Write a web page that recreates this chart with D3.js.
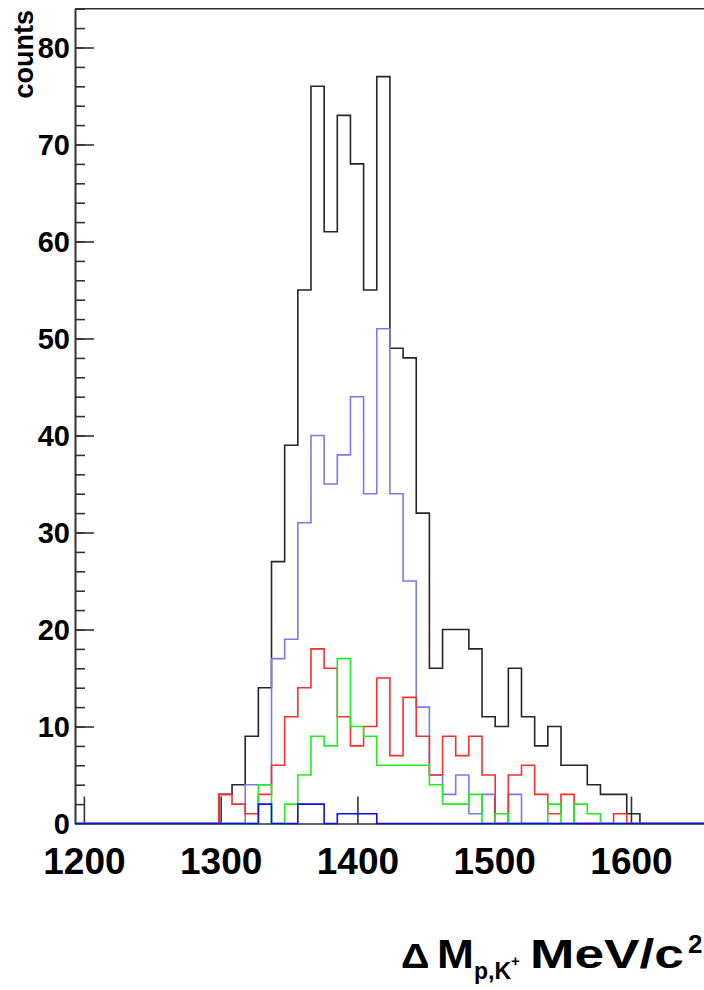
<!DOCTYPE html>
<html>
<head>
<meta charset="utf-8">
<script src="https://cdn.jsdelivr.net/npm/d3@7"></script>
<style>
  html, body { margin: 0; padding: 0; background: #fff; }
  svg { display: block; }
  text { font-family: "Liberation Sans", Arial, Helvetica, sans-serif; font-weight: bold; fill: #000; }
</style>
</head>
<body>
<svg id="chart" width="704" height="990"></svg>
<script>
// Histogram binning (MeV/c^2): lower edge of the first filled bin and the bin width
const firstBinLow = 1298.7;
const binWidth = 9.62;

// Counts per bin, starting at firstBinLow
const countsAll     = [3, 4, 9, 14, 27, 39, 55, 76, 61, 73, 68, 55, 77, 49, 48, 32, 16, 20, 20, 18, 11, 10, 16, 11, 8, 10, 6, 6, 4, 3, 3, 1];
const countsSel     = [0, 0, 4, 4, 17, 19, 31, 40, 35, 38, 44, 34, 51, 34, 25, 12, 5, 3, 5, 1, 3, 0, 3, 0, 0, 0, 0, 0, 0, 0, 0, 0];
const countsRed     = [3, 2, 1, 3, 6, 11, 14, 18, 16, 11, 8, 10, 15, 7, 13, 9, 5, 9, 7, 9, 5, 0, 5, 6, 3, 1, 3, 0, 0, 0, 1, 0];
const countsGreen   = [0, 0, 0, 4, 0, 2, 5, 9, 8, 17, 10, 9, 6, 6, 6, 6, 4, 2, 2, 3, 0, 1, 0, 0, 0, 2, 0, 2, 1, 0, 0, 0];
const countsBlue    = [0, 0, 0, 2, 0, 0, 2, 2, 0, 1, 1, 1, 0, 0, 0, 0, 0, 0, 0, 0, 0, 0, 0, 0, 0, 0, 0, 0, 0, 0, 0, 0];

// Axis ranges and tick labels
const xRange = [1193.5, 1660];
const yRange = [0, 84];
const xTicks = [1200, 1300, 1400, 1500, 1600];
const yTicks = [0, 10, 20, 30, 40, 50, 60, 70, 80];
const yMinorTicks = d3.range(0, 85, 2);

// Drawing order and colours of the histograms
const series = [
  { name: "all",   counts: countsAll,   color: "#262626" },
  { name: "sel",   counts: countsSel,   color: "#7a7af0" },
  { name: "red",   counts: countsRed,   color: "#ff2e2e" },
  { name: "green", counts: countsGreen, color: "#1fef1f" },
  { name: "blue",  counts: countsBlue,  color: "#0a0aff" }
];

const svg = d3.select("#chart");
const plotLeft = 75, plotBottom = 823.5;
const x = d3.scaleLinear().domain(xRange).range([plotLeft, plotLeft + (xRange[1] - xRange[0]) * 1.3677]);
const y = d3.scaleLinear().domain(yRange).range([plotBottom, plotBottom - (yRange[1] - yRange[0]) * 9.7]);

// Frame
const frame = svg.append("g").attr("fill", "none").attr("stroke", "#333").attr("stroke-width", 1.6);
frame.append("line").attr("x1", x(xRange[0])).attr("x2", x(xRange[1])).attr("y1", y(yRange[1])).attr("y2", y(yRange[1]));
frame.append("line").attr("x1", x(xRange[1])).attr("x2", x(xRange[1])).attr("y1", y(yRange[1])).attr("y2", y(0));

// Y axis: ticks point into the plot, labels on the left
const yMinor = svg.append("g").attr("transform", `translate(${plotLeft},0)`)
  .call(d3.axisLeft(y).tickValues(yMinorTicks).tickSizeInner(-10).tickSizeOuter(0).tickFormat(""));
const yAxis = svg.append("g").attr("transform", `translate(${plotLeft},0)`)
  .call(d3.axisLeft(y).tickValues(yTicks).tickSizeInner(-19).tickSizeOuter(0).tickPadding(5).tickFormat(d3.format("d")));
[yMinor, yAxis].forEach(g => {
  g.selectAll("path.domain").attr("stroke", "#333").attr("stroke-width", 1.6);
  g.selectAll(".tick line").attr("stroke", "#333").attr("stroke-width", 1.6);
});
yAxis.selectAll(".tick text").attr("font-size", 29).attr("font-family", "Liberation Sans, Arial, sans-serif").attr("font-weight", "bold").attr("fill", "#000").attr("dy", "0.36em");

// X axis: ticks point up into the plot
const xAxis = svg.append("g").attr("transform", `translate(0,${plotBottom})`)
  .call(d3.axisBottom(x).tickValues(xTicks).tickSizeInner(-27).tickSizeOuter(0).tickPadding(24).tickFormat(d3.format("d")));
xAxis.selectAll("path.domain").attr("stroke", "#333").attr("stroke-width", 1.6);
xAxis.selectAll(".tick line").attr("stroke", "#333").attr("stroke-width", 1.6);
xAxis.selectAll(".tick text").attr("font-size", 37).attr("font-family", "Liberation Sans, Arial, sans-serif").attr("font-weight", "bold").attr("fill", "#000");

// Histogram outlines as step lines over the whole axis range
const line = d3.line().x(d => x(d[0])).y(d => y(d[1]));
function stepPoints(counts) {
  const pts = [[xRange[0], 0], [firstBinLow, 0]];
  counts.forEach((c, i) => {
    const lo = firstBinLow + i * binWidth;
    pts.push([lo, c], [lo + binWidth, c]);
  });
  pts.push([firstBinLow + counts.length * binWidth, 0], [xRange[1], 0]);
  return pts;
}
svg.append("g").selectAll("path.hist").data(series).join("path")
  .attr("class", "hist")
  .attr("d", d => line(stepPoints(d.counts)))
  .attr("fill", "none")
  .attr("stroke", d => d.color)
  .attr("stroke-width", 1.6);

// Y axis title
svg.append("text")
  .attr("transform", "translate(33,10) rotate(-90)")
  .attr("text-anchor", "end")
  .attr("font-size", 27)
  .text("counts");

// X axis title: "Δ M_{p,K+} MeV/c^2", wide bold lettering
const xTitle = svg.append("g");
function titlePart(tx, ty, txt, size, sx, normal) {
  const t = xTitle.append("text")
    .attr("transform", `translate(${tx},${ty}) scale(${sx},1)`)
    .attr("font-size", size)
    .text(txt);
  if (normal) t.attr("font-weight", "normal").attr("font-family", "DejaVu Sans, sans-serif");
  return t;
}
titlePart(401, 968, "Δ", 36, 1.1, true);
titlePart(437, 968, "M", 41, 1.08);
titlePart(474, 979, "p,K", 23, 1.0);
titlePart(511, 966, "+", 15, 1.0);
titlePart(530, 968, "MeV/c", 41, 1.3);
titlePart(688, 953, "2", 26, 1.0);
</script>
</body>
</html>
